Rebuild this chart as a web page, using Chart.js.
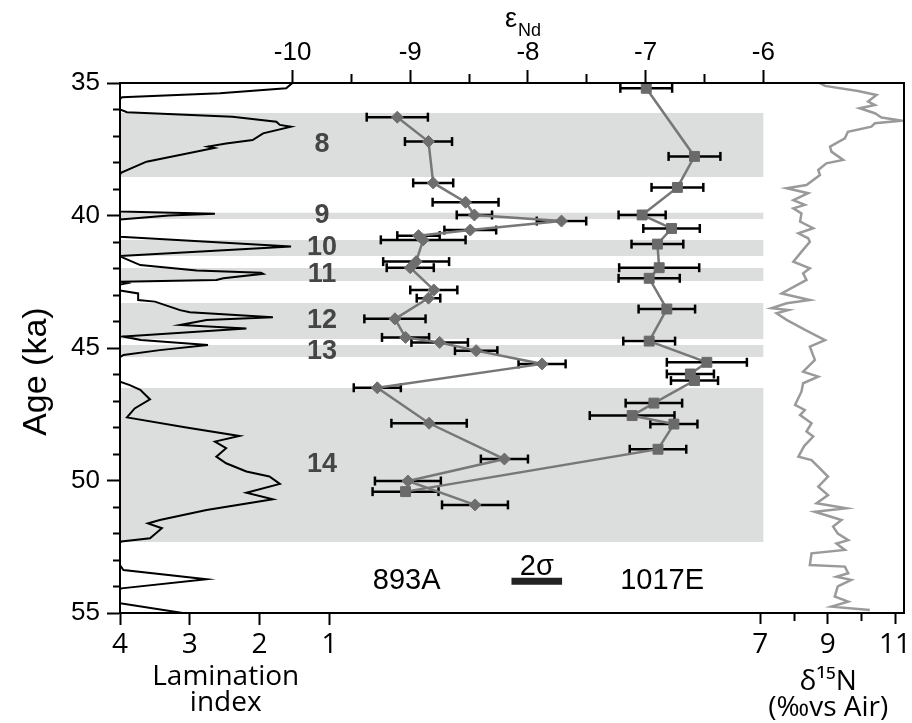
<!DOCTYPE html>
<html>
<head>
<meta charset="utf-8">
<script src="https://cdn.jsdelivr.net/npm/chart.js@4/dist/chart.umd.min.js"></script>
<style>
  html, body { margin: 0; padding: 0; background: #fff; }
  canvas { display: block; }
</style>
</head>
<body>
<canvas id="ndChart" width="912" height="723"></canvas>
<script>
// ---- data ----
// ODP 893A (diamonds)
const age893 = [36.29, 37.21, 38.77, 39.50, 39.98, 40.21, 40.55, 40.76, 40.92, 41.74, 41.97, 42.81,
  43.12, 43.90, 44.60, 44.79, 45.10, 45.60, 46.50, 47.84, 49.19, 50.02, 50.92];
const eps893 = [-9.11, -8.845, -8.805, -8.53, -8.455, -7.715, -8.49, -8.93, -8.89, -8.95, -9.00, -8.80,
  -8.845, -9.13, -9.04, -8.75, -8.44, -7.88, -9.28, -8.84, -8.20, -9.02, -8.45];
const err893 = [0.26, 0.20, 0.17, 0.28, 0.15, 0.21, 0.22, 0.18, 0.36, 0.28, 0.20, 0.20,
  0.10, 0.26, 0.20, 0.24, 0.18, 0.20, 0.20, 0.32, 0.20, 0.28, 0.28];

// ODP 1017E (squares)
const age1017 = [35.20, 37.77, 38.94, 39.98, 40.49, 41.08, 41.97, 42.37, 43.53, 44.74, 45.54, 45.98,
  46.23, 47.08, 47.55, 47.87, 48.82, 50.42];
const eps1017 = [-6.995, -6.585, -6.73, -7.03, -6.78, -6.90, -6.885, -6.97, -6.82, -6.97, -6.48, -6.62,
  -6.585, -6.93, -7.115, -6.76, -6.895, -9.04];
const err1017 = [0.22, 0.22, 0.22, 0.20, 0.24, 0.22, 0.34, 0.26, 0.24, 0.22, 0.34, 0.20,
  0.20, 0.24, 0.36, 0.20, 0.24, 0.28];

// lamination index
const lamAge = [35.0, 35.2, 35.39, 35.54, 35.6, 36.0, 36.1, 36.27, 36.46, 36.58, 36.65, 36.9, 37.15, 37.28,
  37.4, 37.45, 37.97, 38.38, 38.45, 39.85, 39.93, 40.0, 40.15, 40.8, 41.17, 41.53, 41.6, 41.87, 42.08,
  42.16, 42.2, 42.37, 42.43, 42.5, 42.55, 42.6, 42.83, 42.94, 43.19, 43.25, 43.57, 43.65, 43.84, 43.94,
  44.13, 44.26, 44.57, 44.7, 44.89, 45.08, 45.26, 45.35, 46.27, 46.4, 46.58, 46.94, 47.28, 47.62, 48.0,
  48.32, 48.53, 48.78, 49.1, 49.35, 49.66, 49.85, 50.13, 50.46, 50.71, 51.11, 51.49, 51.62, 51.8, 52.18,
  52.3, 52.35, 53.2, 53.38, 53.73, 54.07, 54.1, 54.63, 55.0];
const lamIndex = [1.53, 1.62, 2.57, 3.97, 4, 4, 3.9, 2.39, 1.76, 1.71, 1.55, 1.95, 2.1, 2.48,
  2.74, 2.65, 3.62, 3.98, 4, 4, 2.64, 3.3, 4, 4, 1.55, 4, 3.95, 3.71, 2.9,
  1.98, 1.95, 2.52, 2.62, 3.98, 3.9, 4, 4, 3.74, 3.74, 3.5, 3.14, 3.0, 1.81, 2.76,
  3.14, 2.19, 3.95, 3.7, 2.74, 3.43, 3.95, 4, 4, 3.86, 3.71, 3.57, 3.79, 3.9, 3.05,
  2.29, 2.64, 2.48, 2.62, 2.48, 2.19, 1.86, 1.71, 2.19, 1.81, 2.76, 3.43, 3.6, 3.4, 3.57,
  3.98, 4, 4, 3.95, 2.76, 3.98, 4, 4, 3.1];

// d15N (permil vs air)
const d15Age = [35.0, 35.11, 35.3, 35.45, 35.7, 35.83, 35.95, 36.14, 36.3, 36.42, 36.52, 36.65, 36.84,
  37.09, 37.4, 37.59, 37.9, 38.03, 38.28, 38.47, 38.85, 38.97, 39.16, 39.42, 39.6, 39.73, 39.92, 40.23,
  40.48, 40.67, 40.86, 40.99, 41.4, 41.74, 41.99, 42.18, 42.43, 42.94, 43.19, 43.31, 43.5, 43.57, 43.69,
  43.94, 44.3, 44.7, 44.95, 45.45, 45.89, 46.08, 46.33, 46.65, 47.15, 47.34, 47.53, 47.84, 48.15, 48.34,
  48.7, 49.1, 49.23, 49.85, 50.23, 50.55, 50.86, 51.05, 51.18, 51.49, 51.74, 52.0, 52.25, 52.38, 52.62,
  52.75, 53.19, 53.25, 53.5, 53.63, 53.75, 54.0, 54.38, 54.57, 54.76, 54.89];
const d15Value = [8.75, 8.92, 9.9, 10.45, 10.2, 10.4, 9.95, 10.4, 10.6, 11.19, 10.4, 10.3, 9.6,
  9.51, 9.07, 9.11, 9.46, 8.96, 8.72, 8.77, 8.37, 7.78, 8.42, 7.98, 8.32, 7.98, 8.22, 8.18,
  8.57, 8.13, 8.42, 8.47, 8.2, 7.98, 8.47, 8.27, 8.37, 7.63, 8.47, 7.78, 7.33, 7.83, 7.48,
  7.78, 8.3, 8.92, 8.47, 8.62, 8.27, 8.72, 8.27, 8.22, 8.03, 8.32, 8.18, 8.52, 8.37, 8.57,
  8.3, 8.13, 8.52, 9.01, 8.72, 9.01, 8.67, 9.55, 8.62, 9.41, 9.16, 9.3, 9.61, 9.26, 9.51,
  8.52, 8.47, 9.51, 9.61, 9.26, 9.7, 9.3, 9.21, 9.61, 9.11, 10.25];

// laminated intervals (grey bands)
const bandNames = ['8', '9', '10', '11', '12', '13', '14'];
const bandStart = [36.13, 39.9, 40.92, 41.98, 43.3, 44.89, 46.51];
const bandEnd = [38.55, 40.13, 41.53, 42.47, 44.66, 45.34, 52.32];
const bandRight = -6.0;
const bandLabelEps = -9.75;

// 2 sigma scale bar
const sigmaBar = [-8.14, -7.71];
const sigmaAge = 53.8;

// tick values
const ageTicks = [35, 36, 37, 38, 39, 40, 41, 42, 43, 44, 45, 46, 47, 48, 49, 50, 51, 52, 53, 54, 55];
const epsTicks = [-10, -9.5, -9, -8.5, -8, -7.5, -7, -6.5, -6];
const lamTicks = [4, 3, 2, 1];
const d15Ticks = [7, 8, 9, 10, 11];

const epsMin = -11.466, epsMax = -4.805;

const sans = '"Liberation Sans", Arial, Helvetica, sans-serif';
const myriad = '"Open Sans", "Noto Sans", sans-serif';

function pts(xs, ys) {
  return xs.map((x, i) => ({x: x, y: ys[i]}));
}
function errorBars(xs, ys, errs) {
  const out = [];
  xs.forEach((x, i) => {
    out.push({x: x - errs[i], y: ys[i]}, {x: x + errs[i], y: ys[i]}, {x: null, y: null});
  });
  return out;
}
function bandShape(i) {
  return [
    {x: epsMin, y: bandStart[i]}, {x: bandRight, y: bandStart[i]},
    {x: bandRight, y: bandEnd[i]}, {x: epsMin, y: bandEnd[i]}
  ];
}
const fixTicks = list => scale => { scale.ticks = list.map(v => ({value: v})); };

const bandSets = bandNames.map((n, i) => ({
  label: 'band ' + n,
  data: bandShape(i),
  xAxisID: 'xEps', yAxisID: 'y',
  fill: 'shape',
  backgroundColor: '#dcdddd',
  borderColor: 'rgba(0,0,0,0)',
  borderWidth: 1,
  pointRadius: 0,
  order: 20
}));

const labelsPlugin = {
  id: 'labels',
  afterDatasetsDraw(chart) {
    const {ctx} = chart;
    const xe = chart.scales.xEps, y = chart.scales.y;
    ctx.save();
    ctx.textAlign = 'center';
    ctx.textBaseline = 'middle';
    ctx.fillStyle = '#454545';
    ctx.font = 'bold 27px ' + sans;
    bandNames.forEach((n, i) => {
      ctx.fillText(n, xe.getPixelForValue(bandLabelEps), y.getPixelForValue((bandStart[i] + bandEnd[i]) / 2));
    });
    ctx.fillStyle = '#000';
    ctx.font = '29px ' + sans;
    ctx.fillText('893A', xe.getPixelForValue(-9.03), y.getPixelForValue(53.78));
    ctx.fillText('1017E', xe.getPixelForValue(-6.86), y.getPixelForValue(53.78));
    ctx.fillText('2σ', xe.getPixelForValue((sigmaBar[0] + sigmaBar[1]) / 2), y.getPixelForValue(53.26));
    ctx.restore();
  },
  afterDraw(chart) {
    // top axis title with subscript
    const {ctx} = chart;
    const xe = chart.scales.xEps;
    const x0 = xe.getPixelForValue(-8) - 23;
    ctx.save();
    ctx.fillStyle = '#000';
    ctx.textAlign = 'left';
    ctx.textBaseline = 'alphabetic';
    ctx.font = '27px ' + sans;
    ctx.fillText('ε', x0, 27);
    const w = ctx.measureText('ε').width;
    ctx.font = '18px ' + sans;
    ctx.fillText('Nd', x0 + w + 1, 36);
    ctx.restore();
  }
};

const axisBorder = {color: '#000', width: 2, z: 1};

new Chart(document.getElementById('ndChart'), {
  type: 'line',
  data: {
    datasets: [
      ...bandSets,
      {
        label: 'Lamination index',
        data: pts(lamIndex, lamAge),
        xAxisID: 'xLam', yAxisID: 'y',
        borderColor: '#000', borderWidth: 2, pointRadius: 0, order: 9
      },
      {
        label: 'd15N',
        data: pts(d15Value, d15Age),
        xAxisID: 'xD15', yAxisID: 'y',
        borderColor: '#9a9a9a', borderWidth: 2.5, pointRadius: 0, order: 9
      },
      {
        label: '893A error',
        data: errorBars(eps893, age893, err893),
        xAxisID: 'xEps', yAxisID: 'y',
        borderColor: '#000', borderWidth: 2.5,
        pointStyle: 'line', pointRotation: 90, pointRadius: 4.5,
        pointBorderColor: '#000', pointBorderWidth: 2.5, order: 5
      },
      {
        label: '1017E error',
        data: errorBars(eps1017, age1017, err1017),
        xAxisID: 'xEps', yAxisID: 'y',
        borderColor: '#000', borderWidth: 2.5,
        pointStyle: 'line', pointRotation: 90, pointRadius: 4.5,
        pointBorderColor: '#000', pointBorderWidth: 2.5, order: 5
      },
      {
        label: '893A',
        data: pts(eps893, age893),
        xAxisID: 'xEps', yAxisID: 'y',
        borderColor: '#777777', borderWidth: 2.5,
        pointStyle: 'rectRot', pointRadius: 6,
        pointBackgroundColor: '#6e6e6e', pointBorderColor: '#6e6e6e', pointBorderWidth: 1, order: 1
      },
      {
        label: '1017E',
        data: pts(eps1017, age1017),
        xAxisID: 'xEps', yAxisID: 'y',
        borderColor: '#777777', borderWidth: 2.5,
        pointStyle: 'rect', pointRadius: 7,
        pointBackgroundColor: '#6a6a6a', pointBorderColor: '#6a6a6a', pointBorderWidth: 1, order: 1
      },
      {
        label: '2 sigma',
        data: sigmaBar.map(x => ({x: x, y: sigmaAge})),
        xAxisID: 'xEps', yAxisID: 'y',
        borderColor: '#222', borderWidth: 7, pointRadius: 0, order: 1
      }
    ]
  },
  options: {
    responsive: false,
    animation: false,
    devicePixelRatio: 1,
    events: [],
    layout: {padding: 0},
    plugins: {legend: {display: false}, tooltip: {enabled: false}},
    scales: {
      y: {
        type: 'linear', position: 'left', reverse: true, min: 35, max: 55,
        afterBuildTicks: fixTicks(ageTicks),
        afterFit: s => { s.width = 120; s.paddingTop = 0; s.paddingBottom = 0; },
        ticks: {autoSkip: false, padding: 7, color: '#000', font: {family: sans, size: 26},
          callback: v => (v % 5 === 0 ? v : '')},
        grid: {drawOnChartArea: false, tickLength: 13, tickWidth: 2, tickColor: '#000',
          tickBorderDash: c => (c.tick && c.tick.value % 5 !== 0 ? [0, 6, 7, 6] : [])},
        border: axisBorder,
        title: {display: true, text: 'Age (ka)     ', color: '#000',
          font: {family: sans, size: 34}, padding: {top: 16, bottom: 0}}
      },
      yFrame: {
        type: 'linear', position: 'right',
        afterFit: s => { s.width = 6; },
        ticks: {display: false},
        grid: {drawOnChartArea: false, drawTicks: false},
        border: axisBorder
      },
      xEps: {
        type: 'linear', position: 'top', min: epsMin, max: epsMax,
        afterBuildTicks: fixTicks(epsTicks),
        afterFit: s => { s.height = 83; s.paddingLeft = 0; s.paddingRight = 0; },
        ticks: {autoSkip: false, maxRotation: 0, padding: 2, color: '#000', font: {family: sans, size: 26},
          callback: v => (Number.isInteger(v) ? v : '')},
        grid: {drawOnChartArea: false, tickLength: 13, tickWidth: 2, tickColor: '#000',
          tickBorderDash: c => (c.tick && !Number.isInteger(c.tick.value) ? [0, 4, 9, 4] : [])},
        border: axisBorder
      },
      xLam: {
        type: 'linear', position: 'bottom', stack: 'bottomRow', stackWeight: 212,
        reverse: true, min: 0.971, max: 4,
        afterBuildTicks: fixTicks(lamTicks),
        afterFit: s => { s.height = 110; s.paddingLeft = 0; s.paddingRight = 0; },
        ticks: {autoSkip: false, maxRotation: 0, padding: 3, color: '#000', font: {family: myriad, size: 28}},
        grid: {drawOnChartArea: false, tickLength: 12, tickWidth: 2, tickColor: '#000'},
        border: axisBorder,
        title: {display: true, text: ['Lamination', 'index'], color: '#000',
          font: {family: myriad, size: 28, lineHeight: '26px'}, padding: {top: 0, bottom: 7}}
      },
      xGap: {
        type: 'linear', position: 'bottom', stack: 'bottomRow', stackWeight: 422, min: 0, max: 1,
        afterFit: s => { s.height = 110; s.paddingLeft = 0; s.paddingRight = 0; },
        ticks: {display: false},
        grid: {drawOnChartArea: false, drawTicks: false},
        border: axisBorder
      },
      xD15: {
        type: 'linear', position: 'bottom', stack: 'bottomRow', stackWeight: 152, min: 6.763, max: 11.267,
        afterBuildTicks: fixTicks(d15Ticks),
        afterFit: s => { s.height = 110; s.paddingLeft = 0; s.paddingRight = 0; },
        ticks: {autoSkip: false, maxRotation: 0, padding: 4, color: '#000', font: {family: myriad, size: 28},
          callback: v => (v % 2 === 1 ? v : '')},
        grid: {drawOnChartArea: false, tickLength: 11, tickWidth: 2, tickColor: '#000',
          tickBorderDash: c => (c.tick && c.tick.value % 2 === 0 ? [7, 20] : [])},
        border: axisBorder,
        title: {display: true, text: ['δ¹⁵N', '(‰vs Air)'], color: '#000',
          font: {family: myriad, size: 28, lineHeight: '26px'}, padding: {top: 0, bottom: 2}}
      }
    }
  },
  plugins: [labelsPlugin]
});
</script>
</body>
</html>
